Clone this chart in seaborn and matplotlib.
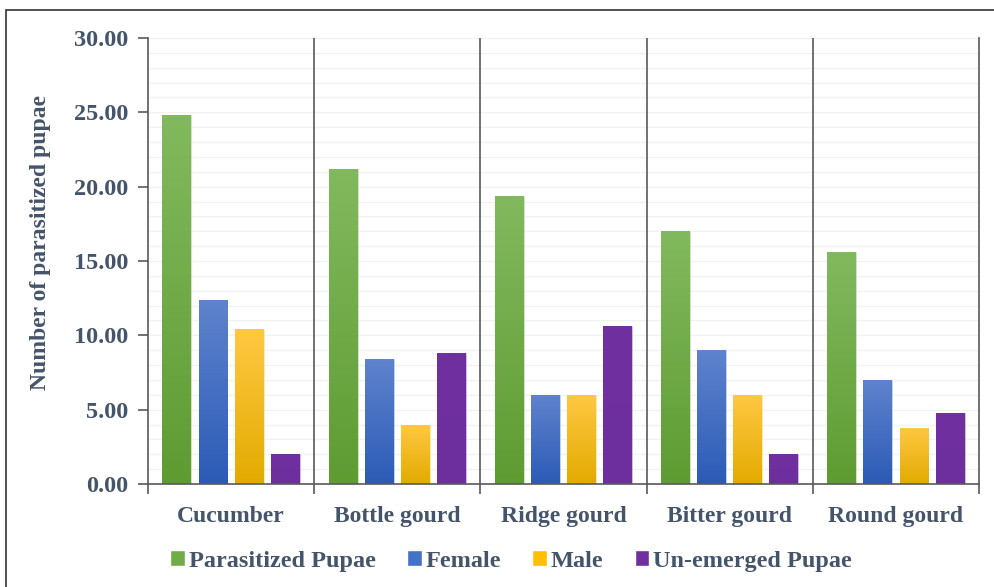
import numpy as np
import pandas as pd
import matplotlib
matplotlib.use("Agg")
import matplotlib.pyplot as plt
import matplotlib.patches as mpatches
from matplotlib.colors import to_rgb
from matplotlib.ticker import MultipleLocator, FixedLocator
import seaborn as sns

crops = ["Cucumber", "Bottle gourd", "Ridge gourd", "Bitter gourd", "Round gourd"]
series = ["Parasitized Pupae", "Female", "Male", "Un-emerged Pupae"]
parasitized = [24.8, 21.2, 19.4, 17.0, 15.6]
female = [12.4, 8.4, 6.0, 9.0, 7.0]
male = [10.4, 4.0, 6.0, 6.0, 3.8]
unemerged = [2.0, 8.8, 10.6, 2.0, 4.8]
yticks = [0, 5, 10, 15, 20, 25, 30]
ylabel = "Number of parasitized pupae"

sns.set_theme(style="white")
plt.rcParams["font.family"] = ["Liberation Serif", "DejaVu Serif"]
plt.rcParams["font.weight"] = "bold"
TXT = "#44546A"
AXC = "#595959"

mid_colors = ["#70AD47", "#4472C4", "#FFC000", "#7030A0"]
grad = {
    "Parasitized Pupae": ("#82B95E", "#5E9C32"),
    "Female": ("#5F83CD", "#2C5BB6"),
    "Male": ("#FFC843", "#E3AB00"),
    "Un-emerged Pupae": ("#7030A0", "#6E2F9E"),
}

df = pd.DataFrame({
    "Crop": crops * 4,
    "Series": sum([[s] * len(crops) for s in series], []),
    "Value": parasitized + female + male + unemerged,
})

fig = plt.figure(figsize=(9.94, 5.87), dpi=100)
ax = fig.add_axes([148 / 994, 1 - 484 / 587, (979 - 148) / 994, (484 - 38) / 587])

sns.barplot(data=df, x="Crop", y="Value", hue="Series", hue_order=series,
            palette=mid_colors, saturation=1, width=0.87, gap=0.2,
            errorbar=None, ax=ax, legend=True, zorder=3)

# gradient fill per bar
for cont, name in zip(ax.containers, series):
    top, bot = (np.array(to_rgb(c)) for c in grad[name])
    img = np.linspace(top, bot, 64).reshape(64, 1, 3)
    for bar in cont:
        x0, y0 = bar.get_x(), bar.get_y()
        w, h = bar.get_width(), bar.get_height()
        bar.set_edgecolor((1, 1, 1, 0.35))
        bar.set_linewidth(0.8)
        im = ax.imshow(img, extent=(x0, x0 + w, y0, y0 + h), aspect="auto",
                       zorder=3.5, interpolation="bilinear")
        im.set_clip_path(bar)

n = len(crops)
ax.set_xlim(-0.5, n - 0.5)
ax.set_ylim(0, 30)
ax.set_yticks(yticks)
ax.set_yticklabels([f"{v:.2f}" for v in yticks])
ax.yaxis.set_minor_locator(MultipleLocator(1))
ax.xaxis.set_minor_locator(FixedLocator(np.arange(n + 1) - 0.5))

ax.grid(True, axis="y", which="both", color="#F2F2F2", linewidth=1.0, zorder=0)
ax.set_axisbelow(True)
ax.vlines(np.arange(1, n) - 0.5, 0, 30, color=AXC, linewidth=1.2, zorder=4)

for side in ["left", "right", "bottom"]:
    ax.spines[side].set_visible(True)
    ax.spines[side].set_color(AXC)
    ax.spines[side].set_linewidth(1.2)
ax.spines["top"].set_visible(False)
ax.spines["bottom"].set_zorder(5)

ax.tick_params(axis="y", which="major", length=7, width=1.2, color=AXC, direction="out",
               labelsize=17.5, labelcolor=TXT, pad=7, left=True)
ax.tick_params(axis="y", which="minor", length=0, left=False)
ax.tick_params(axis="x", which="major", length=0, labelsize=17, labelcolor=TXT, pad=16)
ax.tick_params(axis="x", which="minor", length=7, width=1.2, color=AXC, direction="out", bottom=True)
for lab in ax.get_xticklabels() + ax.get_yticklabels():
    lab.set_fontweight("bold")

ax.set_xlabel("")
ax.set_ylabel("")
fig.text(41 / 994, 1 - 242 / 587, ylabel, rotation=90, ha="center", va="center",
         fontsize=17, fontweight="bold", color=TXT)

sns.move_legend(ax, "center", bbox_to_anchor=(511 / 994, 1 - 561 / 587),
                bbox_transform=fig.transFigure, ncol=4, frameon=False, title=None,
                handlelength=0.6, handleheight=0.6, handletextpad=0.15,
                columnspacing=1.3, prop={"size": 17.5, "weight": "bold"},
                borderpad=0.1)
for t in ax.get_legend().get_texts():
    t.set_color(TXT)

# outer frame (left and top edges visible)
fig.patches.append(mpatches.Rectangle((5.5 / 994, -0.2), 2.0, 1.2 - 10 / 587,
                                      transform=fig.transFigure, fill=False,
                                      edgecolor="#333333", linewidth=1.2))

fig.savefig("out.png", dpi=100)
